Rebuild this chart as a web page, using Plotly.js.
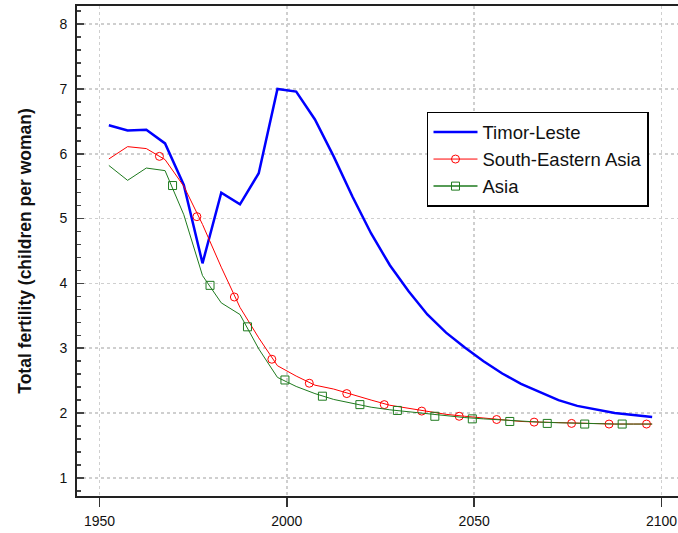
<!DOCTYPE html>
<html>
<head>
<meta charset="utf-8">
<script src="https://cdn.plot.ly/plotly-3.0.1.min.js"></script>
<style>html,body{margin:0;padding:0;overflow:hidden;background:#fff;}#chart{width:690px;height:533px;}</style>
</head>
<body>
<div id="chart"></div>
<script>
const years = [1952.5,1957.5,1962.5,1967.5,1972.5,1977.5,1982.5,1987.5,1992.5,1997.5,2002.5,2007.5,2012.5,2017.5,2022.5,2027.5,2032.5,2037.5,2042.5,2047.5,2052.5,2057.5,2062.5,2067.5,2072.5,2077.5,2082.5,2087.5,2092.5,2097.5];
const timorLeste = [6.44,6.36,6.37,6.16,5.52,4.31,5.40,5.22,5.70,7.00,6.96,6.53,5.96,5.34,4.77,4.28,3.88,3.52,3.24,3.01,2.80,2.61,2.45,2.32,2.20,2.11,2.05,2.00,1.97,1.94];
const seAsia = [5.92,6.11,6.08,5.91,5.50,4.91,4.25,3.63,3.16,2.73,2.57,2.43,2.37,2.28,2.20,2.12,2.07,2.02,1.98,1.95,1.92,1.89,1.87,1.86,1.85,1.84,1.84,1.83,1.83,1.83];
const asia = [5.82,5.59,5.78,5.74,5.06,4.12,3.70,3.52,2.99,2.55,2.41,2.30,2.21,2.15,2.09,2.05,2.02,1.98,1.95,1.93,1.91,1.89,1.87,1.86,1.85,1.84,1.84,1.83,1.83,1.83];
// marker positions as drawn in the reference
const seAsiaMarkYears = [1966,1976,1986,1996,2006,2016,2026,2036,2046,2056,2066,2076,2086,2096];
const seAsiaMarkVals = [5.96,5.03,3.79,2.83,2.46,2.30,2.13,2.03,1.95,1.90,1.86,1.84,1.83,1.83];
const asiaMarkYears = [1969.5,1979.5,1989.5,1999.5,2009.5,2019.5,2029.5,2039.5,2049.5,2059.5,2069.5,2079.5,2089.5];
const asiaMarkVals = [5.51,3.97,3.33,2.51,2.26,2.13,2.04,1.95,1.91,1.87,1.84,1.83,1.83];
const names = ['Timor-Leste','South-Eastern Asia','Asia'];
const xTicks = [1950,2000,2050,2100];
const yTitle = 'Total fertility (children per woman)';

const BLUE='#0000ff', RED='#ff0000', GREEN='#1e7a1e';
const traces = [
  {x:years,y:timorLeste,mode:'lines',name:names[0],line:{color:BLUE,width:2.5},showlegend:true},
  {x:years,y:seAsia,mode:'lines',line:{color:RED,width:1},showlegend:false,hoverinfo:'skip'},
  {x:seAsiaMarkYears,y:seAsiaMarkVals,mode:'markers',marker:{symbol:'circle-open',size:8,color:RED,line:{width:1}},showlegend:false},
  {x:[null],y:[null],mode:'lines+markers',name:names[1],line:{color:RED,width:1},marker:{symbol:'circle-open',size:8,color:RED,line:{width:1}}},
  {x:years,y:asia,mode:'lines',line:{color:GREEN,width:1},showlegend:false,hoverinfo:'skip'},
  {x:asiaMarkYears,y:asiaMarkVals,mode:'markers',marker:{symbol:'square-open',size:8,color:GREEN,line:{width:1}},showlegend:false},
  {x:[null],y:[null],mode:'lines+markers',name:names[2],line:{color:GREEN,width:1.5},marker:{symbol:'square-open',size:8,color:GREEN,line:{width:1}}}
];
const layout = {
  width:690,height:533,
  margin:{l:77,r:6,t:6,b:37},
  paper_bgcolor:'#fff',plot_bgcolor:'#fff',
  font:{family:'"Liberation Sans", Arial, sans-serif',color:'#111'},
  xaxis:{range:[1944,2106],tickvals:xTicks,ticks:'outside',ticklen:9,tickwidth:1.5,tickcolor:'#333',
    showline:true,linecolor:'#222',linewidth:2,mirror:true,zeroline:false,
    showgrid:true,gridcolor:'#cfcfcf',griddash:'dot',gridwidth:1.5,tickfont:{size:14},ticklabelstandoff:2},
  yaxis:{range:[0.72,8.28],tick0:0,dtick:1,ticks:'inside',ticklen:7,tickwidth:1.5,tickcolor:'#444',
    minor:{dtick:0.2,ticks:'inside',ticklen:4,tickwidth:1.5,tickcolor:'#444',showgrid:false},
    showline:true,linecolor:'#222',linewidth:2,mirror:true,zeroline:false,
    showgrid:true,gridcolor:'#cfcfcf',griddash:'dot',gridwidth:1.5,tickfont:{size:14},ticklabelstandoff:5,
    title:{text:'<b>'+yTitle+'</b>',font:{size:17.5},standoff:23}},
  legend:{x:0.5766,y:0.7837,xanchor:'left',yanchor:'top',bgcolor:'#fff',bordercolor:'#000',borderwidth:1.5,
    font:{size:18.5},tracegroupgap:0,itemwidth:44},
  showlegend:true
};
Plotly.newPlot('chart',traces,layout,{displayModeBar:false,staticPlot:true});
</script>
</body>
</html>
